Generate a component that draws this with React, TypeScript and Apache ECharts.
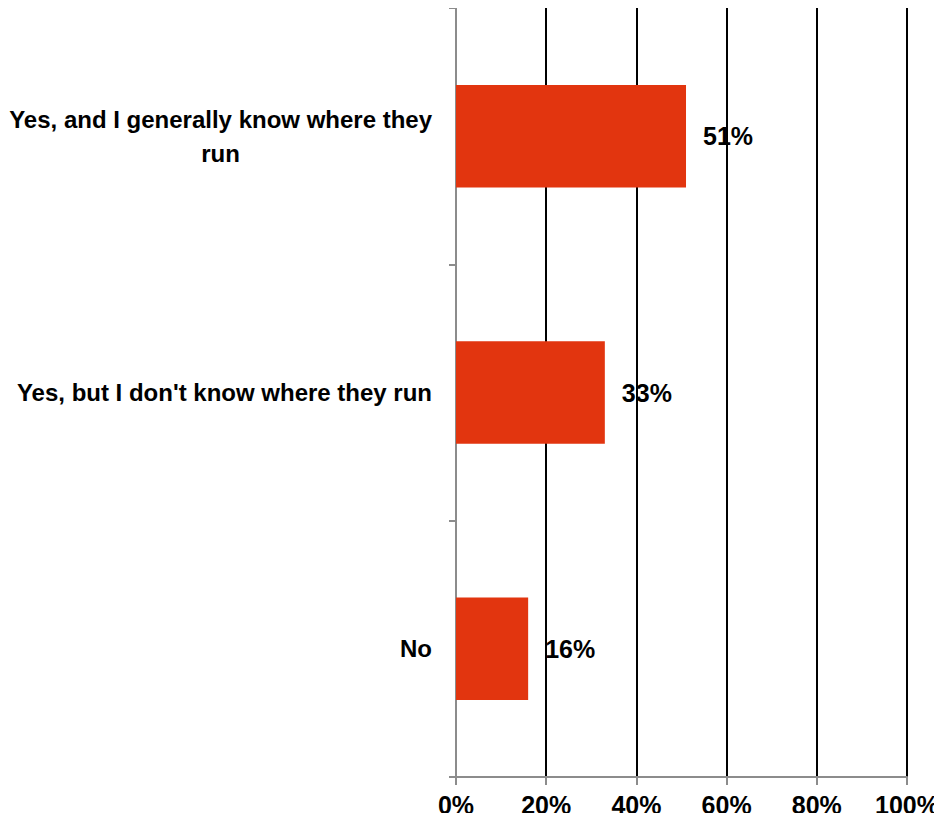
import React, { useEffect, useRef } from "react";
import * as echarts from "echarts";

const categories = [
  "Yes, and I generally know where they\nrun",
  "Yes, but I don't know where they run",
  "No",
];
const values = [51, 33, 16];
const xTicks = [0, 20, 40, 60, 80, 100];

export default function App() {
  const ref = useRef<HTMLDivElement>(null);
  useEffect(() => {
    if (!ref.current) return;
    const chart = echarts.init(ref.current, undefined, { renderer: "svg" });
    const font = "'Liberation Sans', Arial, sans-serif";
    chart.setOption({
      animation: false,
      grid: { left: 456, right: 35, top: 8, bottom: 44 },
      xAxis: {
        type: "value",
        min: xTicks[0],
        max: xTicks[xTicks.length - 1],
        interval: 20,
        axisLine: { show: true, lineStyle: { color: "#8c8c8c", width: 2 } },
        axisTick: { show: true, length: 8, lineStyle: { color: "#8c8c8c", width: 2 } },
        splitLine: { show: true, lineStyle: { color: "#000", width: 2 } },
        axisLabel: {
          formatter: "{value}%",
          color: "#000",
          fontFamily: font,
          fontWeight: "bold",
          fontSize: 25,
          margin: 15,
        },
      },
      yAxis: {
        type: "category",
        data: categories,
        inverse: true,
        axisLine: { show: true, lineStyle: { color: "#8c8c8c", width: 2 } },
        axisTick: { show: true, length: 7, lineStyle: { color: "#8c8c8c", width: 2 } },
        axisLabel: {
          color: "#000",
          margin: 24,
          formatter: (v: string) =>
            v
              .split("\n")
              .map((s) => "{a|" + s + "}")
              .join("\n"),
          rich: {
            a: {
              align: "center",
              fontFamily: font,
              fontWeight: "bold",
              fontSize: 24,
              lineHeight: 34,
              color: "#000",
            },
          },
        },
      },
      series: [
        {
          type: "bar",
          data: values,
          barWidth: "40%",
          itemStyle: { color: "#E2350F" },
          label: {
            show: true,
            position: "right",
            distance: 17,
            formatter: "{c}%",
            color: "#000",
            fontFamily: font,
            fontWeight: "bold",
            fontSize: 25,
          },
          z: 1,
        },
      ],
    });
    return () => chart.dispose();
  }, []);
  return <div ref={ref} style={{ width: 942, height: 821, margin: -8 }} />;
}
